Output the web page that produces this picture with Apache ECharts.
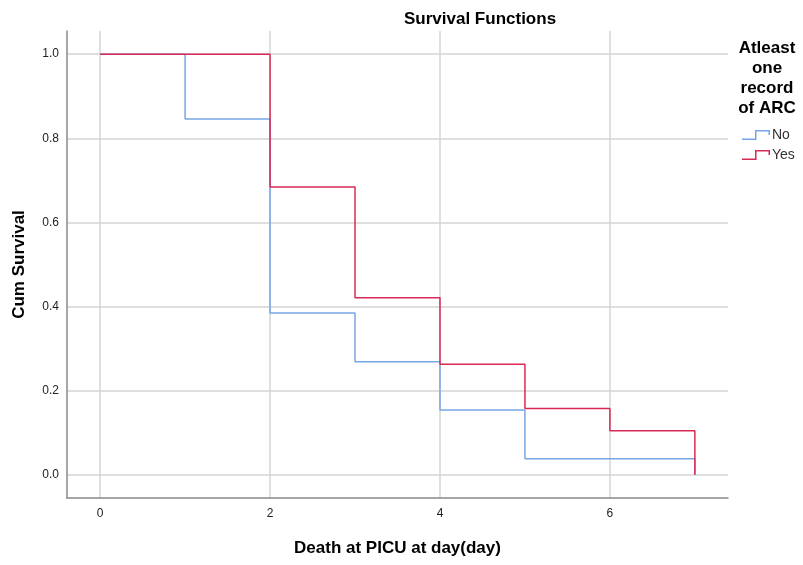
<!DOCTYPE html>
<html>
<head>
<meta charset="utf-8">
<script src="https://cdn.jsdelivr.net/npm/echarts@6/dist/echarts.min.js"></script>
<style>
  html, body { margin: 0; padding: 0; background: #fff; }
  #chart { width: 803px; height: 565px; }
</style>
</head>
<body>
<div id="chart"></div>
<script>
// Kaplan-Meier steps
var noTimes = [0, 1, 2, 3, 4, 5, 7]
var noSurv = [1.0, 0.846, 0.385, 0.269, 0.154, 0.038, 0.0]
var yesTimes = [0, 2, 3, 4, 5, 6, 7]
var yesSurv = [1.0, 0.684, 0.421, 0.263, 0.158, 0.105, 0.0]
var xTicks = [0, 2, 4, 6]
var yTicks = [0, 0.2, 0.4, 0.6, 0.8, 1.0]
var groupNames = ['No', 'Yes']

function pairs(xs, ys) {
  return xs.map(function(x, i) { return [x, ys[i]] })
}

var font = 'Liberation Sans, Arial, sans-serif'
// little step glyph for the legend (28 x 10 box)
var stepIcon = 'path://M0,8.5 L13,8.5 L13,0 L28,0 L28,5 L26.5,5 L26.5,1.5 L14.5,1.5 L14.5,10 L0,10 Z'

var myChart = echarts.init(document.getElementById('chart'))
var option = {
  animation: false,
  textStyle: { fontFamily: font },
  title: {
    text: 'Survival Functions',
    left: 399,
    top: 6,
    textStyle: { fontSize: 17, fontWeight: 'bold', color: '#000', fontFamily: font }
  },
  legend: {
    orient: 'vertical',
    left: 737,
    top: 123,
    itemWidth: 28,
    itemHeight: 10,
    itemGap: 6,
    icon: stepIcon,
    data: groupNames,
    textStyle: { fontSize: 14, color: '#333', padding: [0, 0, 0, -3] }
  },
  graphic: [{
    type: 'text',
    x: 767,
    y: 38,
    style: {
      text: 'Atleast\none\nrecord\nof ARC',
      font: 'bold 17px ' + font,
      fill: '#000',
      align: 'center',
      verticalAlign: 'top',
      lineHeight: 20
    }
  }],
  grid: { left: 67, right: 75, top: 31, bottom: 67 },
  xAxis: {
    type: 'value',
    min: -0.39,
    max: 7.39,
    name: 'Death at PICU at day(day)',
    nameLocation: 'middle',
    nameGap: 42,
    nameTextStyle: { fontSize: 17, fontWeight: 'bold', color: '#000' },
    axisLine: { show: true, onZero: false, lineStyle: { color: '#888', width: 1.5 } },
    axisTick: { show: false, customValues: xTicks },
    axisLabel: { customValues: xTicks, fontSize: 12, color: '#222', margin: 10 },
    splitLine: { show: true, lineStyle: { color: '#d4d4d4', width: 1.5 } }
  },
  yAxis: {
    type: 'value',
    min: -0.055,
    max: 1.055,
    name: 'Cum Survival',
    nameLocation: 'middle',
    nameGap: 39,
    nameTextStyle: { fontSize: 17, fontWeight: 'bold', color: '#000' },
    axisLine: { show: true, onZero: false, lineStyle: { color: '#888', width: 1.5 } },
    axisTick: { show: false, customValues: yTicks },
    axisLabel: {
      customValues: yTicks,
      fontSize: 12,
      color: '#222',
      margin: 8,
      formatter: function(v) { return v.toFixed(1) }
    },
    splitLine: { show: true, lineStyle: { color: '#d4d4d4', width: 1.5 } }
  },
  series: [
    {
      name: groupNames[0],
      type: 'line',
      step: 'end',
      symbol: 'none',
      color: '#77a6e6',
      lineStyle: { width: 1.5, color: '#77a6e6' },
      data: pairs(noTimes, noSurv)
    },
    {
      name: groupNames[1],
      type: 'line',
      step: 'end',
      symbol: 'none',
      color: '#d82a55',
      lineStyle: { width: 1.5, color: '#d82a55' },
      data: pairs(yesTimes, yesSurv)
    }
  ]
}
myChart.setOption(option)
</script>
</body>
</html>
